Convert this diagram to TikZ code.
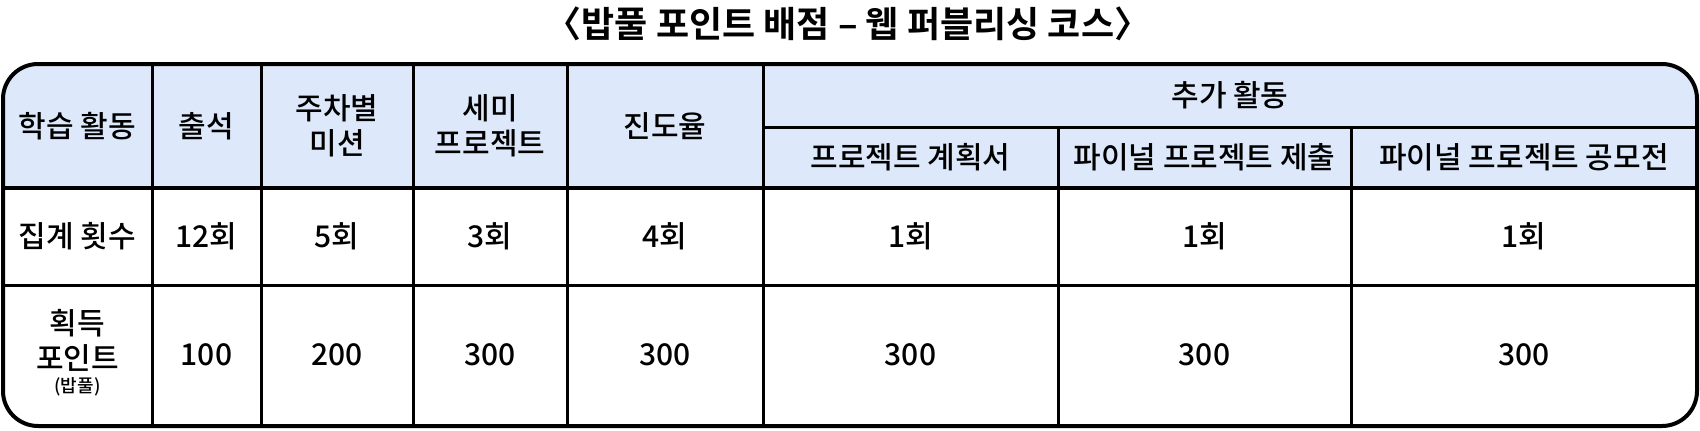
\documentclass[tikz,border=0pt]{standalone}
\usepackage{fontspec}
\setmainfont{Noto Sans CJK KR}[UprightFont=* Medium, BoldFont=* Bold]
\definecolor{hdrblue}{RGB}{221,233,250}
\tikzset{
  cell/.style={font=\fontsize{30}{35}\selectfont, align=center, inner sep=0pt},
  small/.style={font=\fontsize{18}{20}\selectfont, inner sep=0pt},
  grid/.style={line width=3pt},
  outer/.style={line width=4pt, rounded corners=35pt},
}
\begin{document}
\begin{tikzpicture}[x=1pt,y=-1pt]
\useasboundingbox (0,0) rectangle (1700,431);
% header fill
\begin{scope}
  \clip[rounded corners=35pt] (3,64) rectangle (1697,426);
  \fill[hdrblue] (3,64) rectangle (1697,188);
\end{scope}
% grid lines
\draw[grid] (152,64) -- (152,426);
\draw[grid] (261,64) -- (261,426);
\draw[grid] (413,64) -- (413,426);
\draw[grid] (567,64) -- (567,426);
\draw[grid] (763,64) -- (763,426);
\draw[grid] (1058,127) -- (1058,426);
\draw[grid] (1351,127) -- (1351,426);
\draw[grid] (763,127) -- (1697,127);
\draw[line width=4pt] (3,188) -- (1697,188);
\draw[grid] (3,285) -- (1697,285);
\draw[outer] (3,64) rectangle (1697,426);
% title
\node[font=\bfseries\fontsize{36}{40}\selectfont, inner sep=0pt] (title) at (848,24) {〈밥풀 포인트 배점 – 웹 퍼블리싱 코스〉};
% header
\node[cell] (h1) at (77.5,126) {학습 활동};
\node[cell] (h2) at (206.5,126) {출석};
\node[cell] (h3) at (337,126) {주차별\\미션};
\node[cell] (h4) at (490,126) {세미\\프로젝트};
\node[cell] (h5) at (665,126) {진도율};
\node[cell] (h6) at (1230,95) {추가 활동};
\node[cell] (h7) at (910.5,157) {프로젝트 계획서};
\node[cell] (h8) at (1204.5,157) {파이널 프로젝트 제출};
\node[cell] (h9) at (1524,157) {파이널 프로젝트 공모전};
% row 2
\node[cell] (r1) at (77.5,236) {집계 횟수};
\node[cell] (r2) at (206.5,236) {12회};
\node[cell] (r3) at (337,236) {5회};
\node[cell] (r4) at (490,236) {3회};
\node[cell] (r5) at (665,236) {4회};
\node[cell] (r6) at (910.5,236) {1회};
\node[cell] (r7) at (1204.5,236) {1회};
\node[cell] (r8) at (1524,236) {1회};
% row 3
\node[cell] (p1) at (77.5,340) {획득\\포인트};
\node[small] (p1s) at (77.5,387) {(밥풀)};
\node[cell] (p2) at (206.5,355) {100};
\node[cell] (p3) at (337,355) {200};
\node[cell] (p4) at (490,355) {300};
\node[cell] (p5) at (665,355) {300};
\node[cell] (p6) at (910.5,355) {300};
\node[cell] (p7) at (1204.5,355) {300};
\node[cell] (p8) at (1524,355) {300};
\end{tikzpicture}
\end{document}
